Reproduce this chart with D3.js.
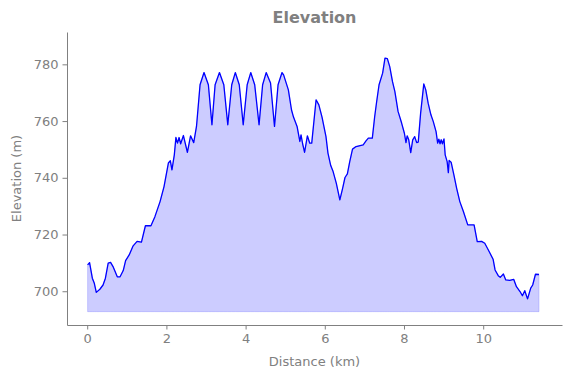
<!DOCTYPE html>
<html>
<head>
<meta charset="utf-8">
<script src="https://cdn.jsdelivr.net/npm/d3@7"></script>
<style>
  body { margin: 0; background: #fff; }
  svg { display: block; font-family: "DejaVu Sans", sans-serif; }
</style>
</head>
<body>
<div id="chart"></div>
<script>
const distanceKm = [0.01,0.06,0.13,0.18,0.23,0.32,0.40,0.46,0.53,0.59,0.66,0.76,0.83,0.91,0.97,1.06,1.16,1.26,1.37,1.47,
  1.61,1.71,1.84,1.94,2.05,2.10,2.14,2.20,2.24,2.28,2.32,2.36,2.43,2.53,2.61,2.69,2.76,2.85,2.95,3.06,
  3.15,3.23,3.34,3.45,3.55,3.65,3.74,3.84,3.94,4.04,4.13,4.23,4.34,4.43,4.52,4.63,4.73,4.82,4.92,4.96,
  5.08,5.16,5.21,5.30,5.37,5.40,5.44,5.49,5.56,5.62,5.67,5.78,5.85,5.93,6.03,6.08,6.15,6.21,6.29,6.38,
  6.45,6.51,6.57,6.63,6.70,6.79,6.97,7.04,7.10,7.20,7.26,7.31,7.37,7.46,7.52,7.58,7.64,7.71,7.77,7.85,
  7.94,8.01,8.05,8.08,8.12,8.17,8.22,8.27,8.32,8.36,8.42,8.50,8.55,8.61,8.68,8.74,8.81,8.85,8.88,8.91,
  8.94,8.97,9.01,9.04,9.09,9.12,9.14,9.19,9.26,9.33,9.41,9.50,9.61,9.77,9.85,9.96,10.04,10.15,10.25,10.30,
  10.38,10.43,10.51,10.57,10.67,10.77,10.84,10.93,10.99,11.05,11.12,11.20,11.25,11.32,11.41];

const elevationM = [709.3,710.1,704.6,702.8,699.6,700.7,702.2,704.6,709.9,710.2,708.5,705.1,705.1,707.3,710.8,712.8,716.0,717.6,717.3,723.1,
  723.1,726.3,731.6,736.9,745.2,746.0,742.8,748.1,754.2,752.2,754.2,752.0,754.9,749.0,754.8,752.4,758.1,772.8,777.1,772.8,
  758.7,772.8,777.1,772.8,758.7,772.8,777.1,772.8,758.7,772.8,777.1,772.8,758.7,772.8,777.1,773.4,758.1,772.8,777.1,776.3,
  771.0,763.9,761.4,758.1,752.8,755.1,752.0,749.0,754.8,752.2,752.2,767.5,765.7,761.4,754.5,748.7,744.3,742.2,738.1,732.2,
  736.3,740.1,741.4,745.7,750.1,751.0,751.6,753.0,754.0,754.0,761.6,766.9,772.8,776.9,782.2,782.0,779.2,773.9,770.4,763.4,
  759.3,755.7,752.4,754.8,753.4,748.9,753.4,754.5,752.4,752.6,762.8,773.1,771.0,766.3,762.2,759.8,756.3,752.2,753.6,752.0,
  753.4,752.0,753.7,748.1,745.7,741.8,746.1,745.5,741.0,736.3,731.6,728.1,723.4,723.4,717.5,717.6,716.9,714.0,711.3,707.5,
  705.5,704.9,706.1,704.0,703.8,704.2,701.6,699.9,698.4,700.2,697.3,701.1,702.2,706.0,705.9];

const xTicks = [0, 2, 4, 6, 8, 10];
const yTicks = [700, 720, 740, 760, 780];
const fillBase = 692.8;

const width = 571, height = 378;
const margin = { top: 32, right: 9, bottom: 53, left: 67 };
const grey = "#808080";

const points = distanceKm.map((d, i) => ({ km: d, elev: elevationM[i] }));

const svg = d3.select("#chart").append("svg")
  .attr("width", width)
  .attr("height", height);

const x = d3.scaleLinear()
  .domain([-0.51, 11.99])
  .range([margin.left, width - margin.right]);

const y = d3.scaleLinear()
  .domain([688.1, 791.4])
  .range([height - margin.bottom, margin.top]);

// filled area under the profile
const area = d3.area()
  .x(d => x(d.km))
  .y0(y(fillBase))
  .y1(d => y(d.elev));

svg.append("path")
  .datum(points)
  .attr("d", area)
  .attr("fill", "rgba(0,0,255,0.2)")
  .attr("stroke", "rgba(0,0,255,0.15)")
  .attr("stroke-width", 1);

const line = d3.line()
  .x(d => x(d.km))
  .y(d => y(d.elev));

svg.append("path")
  .datum(points)
  .attr("d", line)
  .attr("fill", "none")
  .attr("stroke", "#0000ff")
  .attr("stroke-width", 1.3)
  .attr("stroke-linejoin", "round");

// axes
const xAxis = svg.append("g")
  .attr("transform", `translate(0,${height - margin.bottom})`)
  .call(d3.axisBottom(x).tickValues(xTicks).tickSize(4.5).tickPadding(4).tickSizeOuter(0));

const yAxis = svg.append("g")
  .attr("transform", `translate(${margin.left},0)`)
  .call(d3.axisLeft(y).tickValues(yTicks).tickSize(4.5).tickPadding(4).tickSizeOuter(0));

[xAxis, yAxis].forEach(g => {
  g.select(".domain").attr("stroke", grey).attr("stroke-width", 1);
  g.selectAll(".tick line").attr("stroke", grey).attr("stroke-width", 1);
  g.selectAll(".tick text")
    .attr("fill", grey)
    .style("font-size", "13px")
    .style("font-family", "DejaVu Sans, sans-serif");
});

svg.append("text")
  .attr("x", (margin.left + width - margin.right) / 2)
  .attr("y", 23)
  .attr("text-anchor", "middle")
  .attr("fill", grey)
  .style("font-size", "16px")
  .style("font-weight", "bold")
  .text("Elevation");

svg.append("text")
  .attr("x", (margin.left + width - margin.right) / 2)
  .attr("y", 366)
  .attr("text-anchor", "middle")
  .attr("fill", grey)
  .style("font-size", "13px")
  .text("Distance (km)");

svg.append("text")
  .attr("transform", `translate(21,${(margin.top + height - margin.bottom) / 2}) rotate(-90)`)
  .attr("text-anchor", "middle")
  .attr("fill", grey)
  .style("font-size", "13px")
  .text("Elevation (m)");
</script>
</body>
</html>
